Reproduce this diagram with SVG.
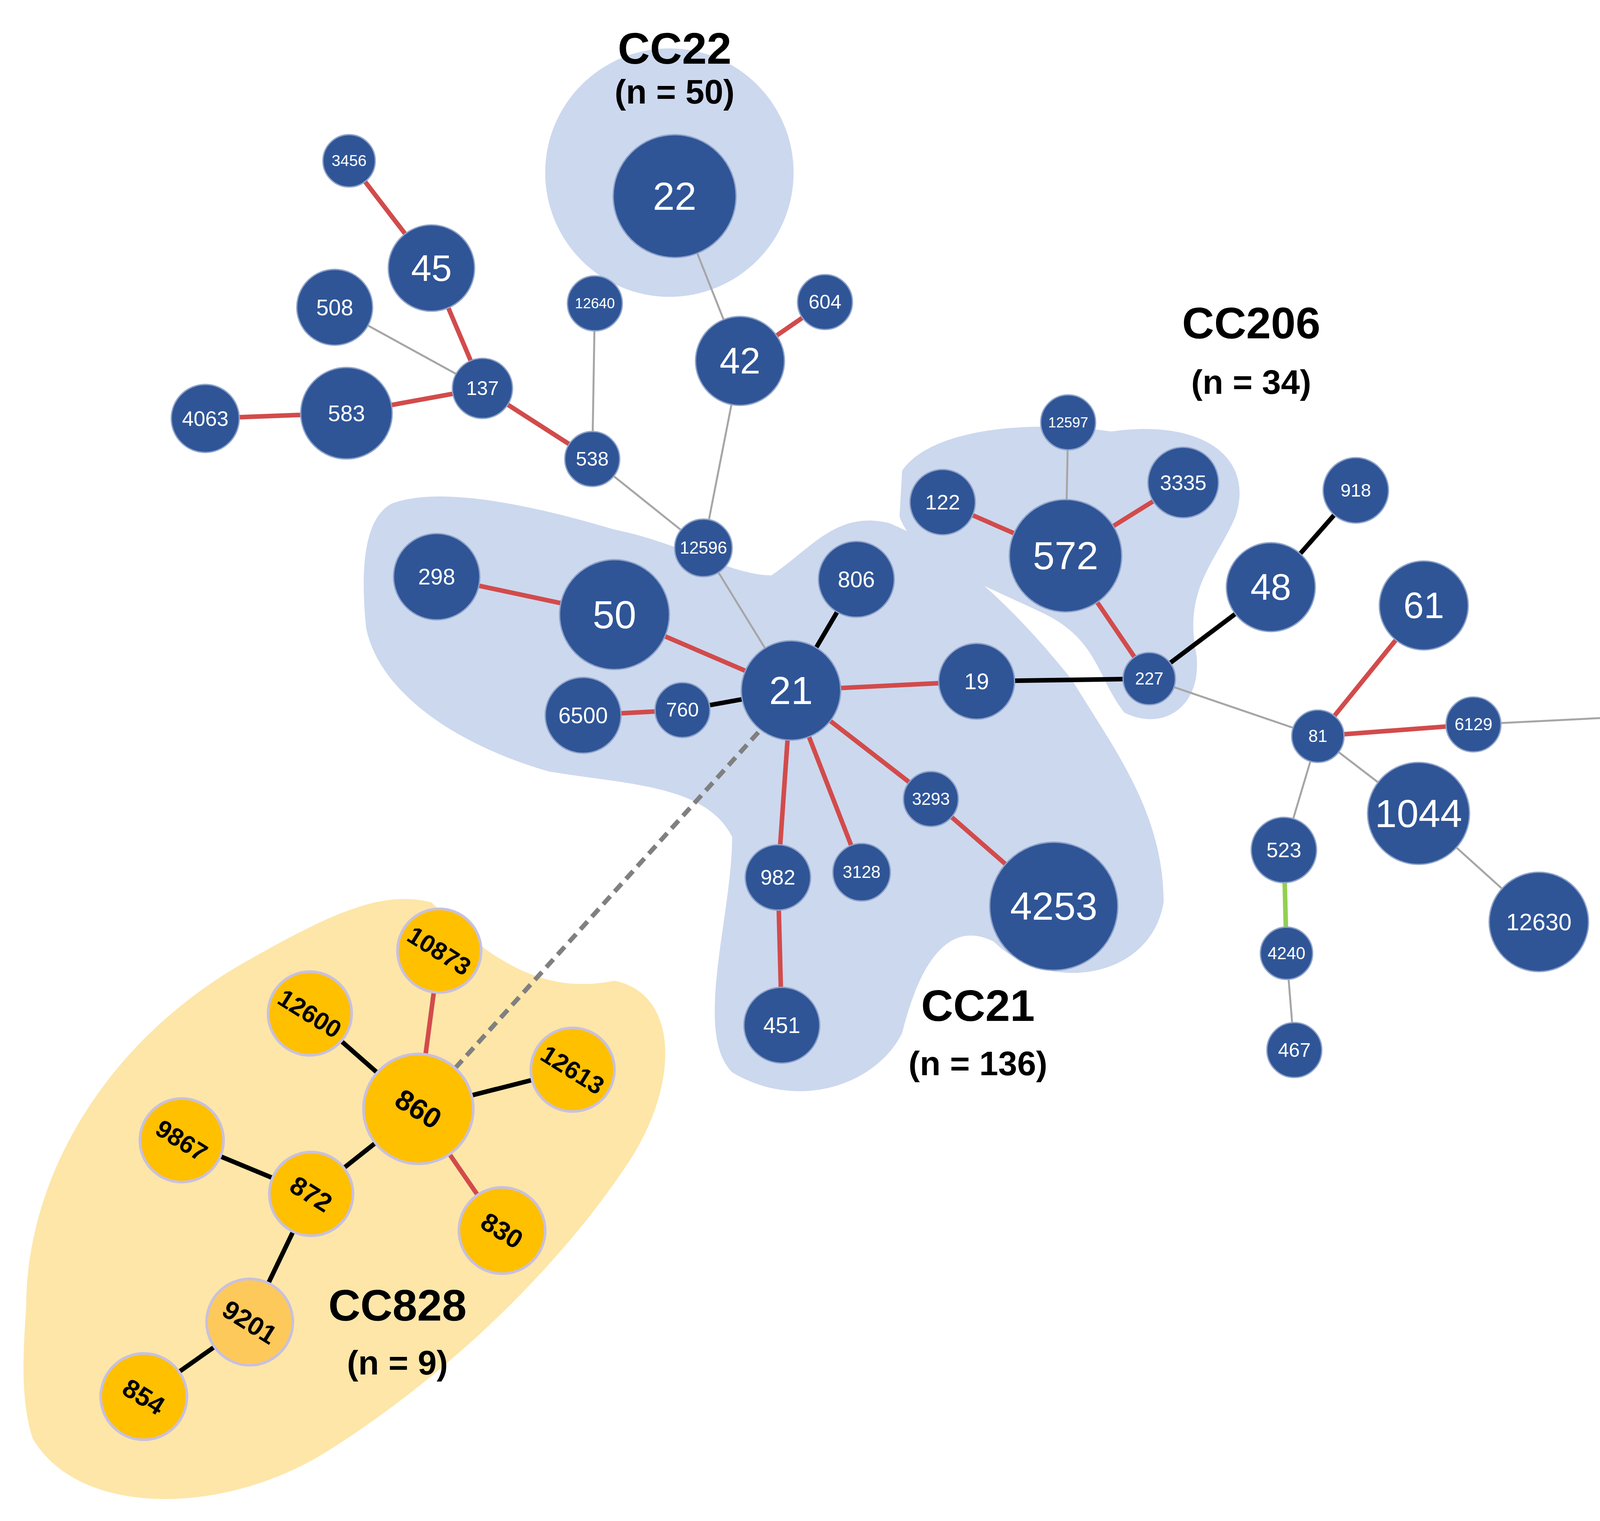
<svg xmlns="http://www.w3.org/2000/svg" width="5248" height="3893" viewBox="0 0 5248 3893">
<style>
.bn{fill:#2f5597;stroke:#8fa3c9;stroke-width:1}
.on{fill:#ffc000;stroke:#c8c0e0;stroke-width:2}
.tw{fill:#fff;font-family:"Liberation Sans",Arial,sans-serif;text-anchor:middle;dominant-baseline:central}
.tb{fill:#000;font-family:"Liberation Sans",Arial,sans-serif;font-weight:bold;text-anchor:middle;dominant-baseline:central}
.r{stroke:#d24b4b;stroke-width:3.5}
.g{stroke:#a6a6a6;stroke-width:1.5}
.k{stroke:#000;stroke-width:3.5}
.gr{stroke:#92d050;stroke-width:3.5}
.lab{font-family:"Liberation Sans",Arial,sans-serif;font-weight:bold;text-anchor:middle;fill:#000}
</style>
<rect width="5248" height="3893" fill="#fff"/>
<g transform="scale(3.347)">
<g id="halos">
<circle cx="512" cy="132" r="95" fill="#ccd8ee"/>
<path d="M300,385 C340,370 420,390 470,405 C520,415 560,440 590,440 C620,420 640,390 680,400 C730,420 780,470 820,520 C850,570 890,620 890,690 C880,750 800,760 760,720 C720,700 700,750 690,790 C670,830 610,850 560,820 C530,790 560,700 560,640 C540,600 480,600 420,590 C350,570 290,530 280,480 C275,430 280,395 300,385 Z" fill="#ccd8ee"/>
<path d="M690,360 C710,330 780,320 850,330 C920,320 960,350 945,395 C930,430 905,450 915,500 C920,540 890,560 860,545 C840,520 840,490 800,470 C760,450 700,430 688,395 Z" fill="#ccd8ee"/>
<path d="M20,1000 C20,900 80,800 180,740 C250,700 290,680 330,690 C380,740 420,760 470,750 C520,760 520,830 480,890 C420,980 330,1060 250,1110 C170,1160 60,1160 25,1100 C15,1070 18,1030 20,1000 Z" fill="#fde6a8"/>
</g>
<g id="connectors">
<line class="r" x1="267" y1="123" x2="330" y2="205"/><line class="r" x1="330" y1="205" x2="369" y2="297"/>
<line class="g" x1="256" y1="235" x2="369" y2="297"/><line class="r" x1="265" y1="316" x2="369" y2="297"/>
<line class="r" x1="157" y1="320" x2="265" y2="316"/><line class="r" x1="369" y1="297" x2="453" y2="351"/>
<line class="g" x1="453" y1="351" x2="455" y2="232"/><line class="g" x1="453" y1="351" x2="538" y2="419"/>
<line class="g" x1="516" y1="150" x2="566" y2="276"/><line class="r" x1="566" y1="276" x2="631" y2="231"/>
<line class="g" x1="566" y1="276" x2="538" y2="419"/><line class="g" x1="538" y1="419" x2="605" y2="528"/>
<line class="r" x1="334" y1="441" x2="470" y2="470"/><line class="r" x1="470" y1="470" x2="605" y2="528"/>
<line class="k" x1="655" y1="443" x2="605" y2="528"/><line class="r" x1="605" y1="528" x2="747" y2="521"/>
<line class="r" x1="446" y1="547" x2="522" y2="543"/><line class="k" x1="522" y1="543" x2="605" y2="528"/>
<line class="r" x1="605" y1="528" x2="712" y2="611"/><line class="r" x1="712" y1="611" x2="806" y2="693"/>
<line class="r" x1="605" y1="528" x2="595" y2="671"/><line class="r" x1="605" y1="528" x2="659" y2="667"/>
<line class="r" x1="595" y1="671" x2="598" y2="784"/>
<line x1="580" y1="560" x2="320" y2="848" stroke="#808080" stroke-width="3.5" stroke-dasharray="8,5"/>
<line class="k" x1="747" y1="521" x2="879" y2="519"/>
<line class="g" x1="817" y1="323" x2="815" y2="425"/><line class="r" x1="721" y1="384" x2="815" y2="425"/>
<line class="r" x1="905" y1="369" x2="815" y2="425"/><line class="r" x1="815" y1="425" x2="879" y2="519"/>
<line class="k" x1="879" y1="519" x2="972" y2="449"/><line class="k" x1="972" y1="449" x2="1037" y2="375"/>
<line class="g" x1="879" y1="519" x2="1008" y2="563"/><line class="r" x1="1008" y1="563" x2="1089" y2="463"/>
<line class="r" x1="1008" y1="563" x2="1127" y2="554"/><line class="g" x1="1008" y1="563" x2="1085" y2="622"/>
<line class="g" x1="1085" y1="622" x2="1177" y2="705"/><line class="g" x1="1008" y1="563" x2="982" y2="650"/>
<line class="gr" x1="982" y1="650" x2="984" y2="729"/><line class="g" x1="984" y1="729" x2="990" y2="803"/>
<line class="g" x1="1127" y1="554" x2="1246" y2="548"/><line class="gr" x1="1246" y1="548" x2="1327" y2="479"/>
<line class="gr" x1="1327" y1="479" x2="1374" y2="395"/><line class="r" x1="1374" y1="395" x2="1448" y2="381"/>
<line class="gr" x1="1374" y1="395" x2="1409" y2="311"/><line class="g" x1="1409" y1="311" x2="1346" y2="241"/>
<line class="g" x1="1409" y1="311" x2="1463" y2="241"/><line class="gr" x1="1463" y1="241" x2="1532" y2="191"/>
<line class="g" x1="1327" y1="479" x2="1432" y2="475"/><line class="r" x1="1432" y1="475" x2="1521" y2="473"/>
<line class="g" x1="1327" y1="479" x2="1421" y2="553"/><line class="r" x1="1246" y1="548" x2="1306" y2="625"/>
<line class="g" x1="1306" y1="625" x2="1397" y2="626"/><line class="r" x1="1306" y1="625" x2="1285" y2="721"/>
<line class="k" x1="1306" y1="625" x2="1360" y2="692"/><line class="g" x1="1360" y1="692" x2="1418" y2="750"/>
<line class="r" x1="1418" y1="750" x2="1469" y2="803"/>
<line class="r" x1="336" y1="727" x2="320" y2="848"/><line class="k" x1="237" y1="775" x2="320" y2="848"/>
<line class="k" x1="438" y1="818" x2="320" y2="848"/><line class="r" x1="320" y1="848" x2="384" y2="941"/>
<line class="k" x1="320" y1="848" x2="238" y2="913"/><line class="k" x1="139" y1="872" x2="238" y2="913"/>
<line class="k" x1="238" y1="913" x2="191" y2="1011"/><line class="k" x1="191" y1="1011" x2="110" y2="1068"/>
</g>
<g id="n22"><circle class="bn" cx="516" cy="150" r="47"/><text class="tw" x="516" y="150" font-size="30">22</text></g>
<g id="n45"><circle class="bn" cx="330" cy="205" r="33"/><text class="tw" x="330" y="205" font-size="28">45</text></g>
<g id="n3456"><circle class="bn" cx="267" cy="123" r="20"/><text class="tw" x="267" y="123" font-size="12">3456</text></g>
<g id="n508"><circle class="bn" cx="256" cy="235" r="29"/><text class="tw" x="256" y="235" font-size="17">508</text></g>
<g id="n137"><circle class="bn" cx="369" cy="297" r="23"/><text class="tw" x="369" y="297" font-size="15">137</text></g>
<g id="n583"><circle class="bn" cx="265" cy="316" r="35"/><text class="tw" x="265" y="316" font-size="17">583</text></g>
<g id="n4063"><circle class="bn" cx="157" cy="320" r="26"/><text class="tw" x="157" y="320" font-size="16">4063</text></g>
<g id="n538"><circle class="bn" cx="453" cy="351" r="21"/><text class="tw" x="453" y="351" font-size="15">538</text></g>
<g id="n12640"><circle class="bn" cx="455" cy="232" r="21"/><text class="tw" x="455" y="232" font-size="11">12640</text></g>
<g id="n42"><circle class="bn" cx="566" cy="276" r="34"/><text class="tw" x="566" y="276" font-size="28">42</text></g>
<g id="n604"><circle class="bn" cx="631" cy="231" r="21"/><text class="tw" x="631" y="231" font-size="15">604</text></g>
<g id="n12596"><circle class="bn" cx="538" cy="419" r="22"/><text class="tw" x="538" y="419" font-size="13">12596</text></g>
<g id="n298"><circle class="bn" cx="334" cy="441" r="33"/><text class="tw" x="334" y="441" font-size="17">298</text></g>
<g id="n50"><circle class="bn" cx="470" cy="470" r="42"/><text class="tw" x="470" y="470" font-size="30">50</text></g>
<g id="n806"><circle class="bn" cx="655" cy="443" r="29"/><text class="tw" x="655" y="443" font-size="17">806</text></g>
<g id="n21"><circle class="bn" cx="605" cy="528" r="38"/><text class="tw" x="605" y="528" font-size="30">21</text></g>
<g id="n19"><circle class="bn" cx="747" cy="521" r="29"/><text class="tw" x="747" y="521" font-size="17">19</text></g>
<g id="n6500"><circle class="bn" cx="446" cy="547" r="29"/><text class="tw" x="446" y="547" font-size="17">6500</text></g>
<g id="n760"><circle class="bn" cx="522" cy="543" r="21"/><text class="tw" x="522" y="543" font-size="15">760</text></g>
<g id="n3293"><circle class="bn" cx="712" cy="611" r="21"/><text class="tw" x="712" y="611" font-size="13">3293</text></g>
<g id="n982"><circle class="bn" cx="595" cy="671" r="25"/><text class="tw" x="595" y="671" font-size="16">982</text></g>
<g id="n3128"><circle class="bn" cx="659" cy="667" r="22"/><text class="tw" x="659" y="667" font-size="13">3128</text></g>
<g id="n4253"><circle class="bn" cx="806" cy="693" r="49"/><text class="tw" x="806" y="693" font-size="30">4253</text></g>
<g id="n451"><circle class="bn" cx="598" cy="784" r="29"/><text class="tw" x="598" y="784" font-size="17">451</text></g>
<g id="n12597"><circle class="bn" cx="817" cy="323" r="21"/><text class="tw" x="817" y="323" font-size="11">12597</text></g>
<g id="n122"><circle class="bn" cx="721" cy="384" r="25"/><text class="tw" x="721" y="384" font-size="16">122</text></g>
<g id="n572"><circle class="bn" cx="815" cy="425" r="43"/><text class="tw" x="815" y="425" font-size="30">572</text></g>
<g id="n3335"><circle class="bn" cx="905" cy="369" r="27"/><text class="tw" x="905" y="369" font-size="16">3335</text></g>
<g id="n227"><circle class="bn" cx="879" cy="519" r="20"/><text class="tw" x="879" y="519" font-size="13">227</text></g>
<g id="n48"><circle class="bn" cx="972" cy="449" r="34"/><text class="tw" x="972" y="449" font-size="28">48</text></g>
<g id="n918"><circle class="bn" cx="1037" cy="375" r="25"/><text class="tw" x="1037" y="375" font-size="14">918</text></g>
<g id="n61"><circle class="bn" cx="1089" cy="463" r="34"/><text class="tw" x="1089" y="463" font-size="28">61</text></g>
<g id="n81"><circle class="bn" cx="1008" cy="563" r="20"/><text class="tw" x="1008" y="563" font-size="13">81</text></g>
<g id="n6129"><circle class="bn" cx="1127" cy="554" r="21"/><text class="tw" x="1127" y="554" font-size="13">6129</text></g>
<g id="n1044"><circle class="bn" cx="1085" cy="622" r="39"/><text class="tw" x="1085" y="622" font-size="30">1044</text></g>
<g id="n12630"><circle class="bn" cx="1177" cy="705" r="38"/><text class="tw" x="1177" y="705" font-size="18">12630</text></g>
<g id="n523"><circle class="bn" cx="982" cy="650" r="25"/><text class="tw" x="982" y="650" font-size="16">523</text></g>
<g id="n4240"><circle class="bn" cx="984" cy="729" r="20"/><text class="tw" x="984" y="729" font-size="13">4240</text></g>
<g id="n467"><circle class="bn" cx="990" cy="803" r="21"/><text class="tw" x="990" y="803" font-size="15">467</text></g>
<g id="n8627"><circle class="bn" cx="1246" cy="548" r="21"/><text class="tw" x="1246" y="548" font-size="13">8627</text></g>
<g id="n464"><circle class="bn" cx="1327" cy="479" r="32"/><text class="tw" x="1327" y="479" font-size="28">464</text></g>
<g id="n5"><circle class="bn" cx="1432" cy="475" r="27"/><text class="tw" x="1432" y="475" font-size="17">5</text></g>
<g id="n1898"><circle class="bn" cx="1521" cy="473" r="29"/><text class="tw" x="1521" y="473" font-size="17">1898</text></g>
<g id="n460"><circle class="bn" cx="1421" cy="553" r="29"/><text class="tw" x="1421" y="553" font-size="17">460</text></g>
<g id="n904"><circle class="bn" cx="1374" cy="395" r="25"/><text class="tw" x="1374" y="395" font-size="16">904</text></g>
<g id="n12635"><circle class="bn" cx="1448" cy="381" r="22"/><text class="tw" x="1448" y="381" font-size="11">12635</text></g>
<g id="n3611"><circle class="bn" cx="1409" cy="311" r="22"/><text class="tw" x="1409" y="311" font-size="13">3611</text></g>
<g id="n12268"><circle class="bn" cx="1346" cy="241" r="21"/><text class="tw" x="1346" y="241" font-size="11">12268</text></g>
<g id="n2274"><circle class="bn" cx="1463" cy="241" r="21"/><text class="tw" x="1463" y="241" font-size="13">2274</text></g>
<g id="n305"><circle class="bn" cx="1532" cy="191" r="27"/><text class="tw" x="1532" y="191" font-size="17">305</text></g>
<g id="n5229"><circle class="bn" cx="1306" cy="625" r="25"/><text class="tw" x="1306" y="625" font-size="15">5229</text></g>
<g id="n5046"><circle class="bn" cx="1397" cy="626" r="21"/><text class="tw" x="1397" y="626" font-size="13">5046</text></g>
<g id="n12656"><circle class="bn" cx="1285" cy="721" r="21"/><text class="tw" x="1285" y="721" font-size="11">12656</text></g>
<g id="n12636"><circle class="bn" cx="1360" cy="692" r="21"/><text class="tw" x="1360" y="692" font-size="11">12636</text></g>
<g id="n51"><circle class="bn" cx="1418" cy="750" r="27"/><text class="tw" x="1418" y="750" font-size="17">51</text></g>
<g id="n5671"><circle class="bn" cx="1469" cy="803" r="22"/><text class="tw" x="1469" y="803" font-size="13">5671</text></g>
<g id="n10873"><circle class="on" cx="336" cy="727" r="32"/><text class="tb" transform="translate(336,727) rotate(32)" font-size="19">10873</text></g>
<g id="n12600"><circle class="on" cx="237" cy="775" r="32"/><text class="tb" transform="translate(237,775) rotate(32)" font-size="19">12600</text></g>
<g id="n860"><circle class="on" cx="320" cy="848" r="42"/><text class="tb" transform="translate(320,848) rotate(32)" font-size="22">860</text></g>
<g id="n12613"><circle class="on" cx="438" cy="818" r="32"/><text class="tb" transform="translate(438,818) rotate(32)" font-size="19">12613</text></g>
<g id="n9867"><circle class="on" cx="139" cy="872" r="32"/><text class="tb" transform="translate(139,872) rotate(32)" font-size="19">9867</text></g>
<g id="n872"><circle class="on" cx="238" cy="913" r="32"/><text class="tb" transform="translate(238,913) rotate(32)" font-size="20">872</text></g>
<g id="n830"><circle class="on" cx="384" cy="941" r="33"/><text class="tb" transform="translate(384,941) rotate(32)" font-size="20">830</text></g>
<g id="n9201"><circle cx="191" cy="1011" r="33" fill="#fdc95a" stroke="#c8c0e0" stroke-width="2"/><text class="tb" transform="translate(191,1011) rotate(32)" font-size="20">9201</text></g>
<g id="n854"><circle class="on" cx="110" cy="1068" r="33" /><text class="tb" transform="translate(110,1068) rotate(32)" font-size="20">854</text></g>
<g id="labels">
<text class="lab" x="516" y="37" font-size="34" dominant-baseline="central">CC22</text>
<text class="lab" x="516" y="70" font-size="26" dominant-baseline="central">(n = 50)</text>
<text class="lab" x="957" y="247" font-size="34" dominant-baseline="central">CC206</text>
<text class="lab" x="957" y="292" font-size="26" dominant-baseline="central">(n = 34)</text>
<text class="lab" x="748" y="769" font-size="34" dominant-baseline="central">CC21</text>
<text class="lab" x="748" y="813" font-size="26" dominant-baseline="central">(n = 136)</text>
<text class="lab" x="304" y="998" font-size="34" dominant-baseline="central">CC828</text>
<text class="lab" x="304" y="1042" font-size="26" dominant-baseline="central">(n = 9)</text>
</g>
<g id="legend">
<circle cx="1247" cy="41" r="20" fill="#2f5597"/>
<circle cx="1247" cy="96" r="20" fill="#ffc000"/>
<text x="1282" y="41" font-size="25" font-family="Liberation Sans,Arial,sans-serif" dominant-baseline="central"><tspan font-weight="bold" font-style="italic">C. jejuni</tspan> (n = 361)</text>
<text x="1282" y="96" font-size="25" font-family="Liberation Sans,Arial,sans-serif" dominant-baseline="central"><tspan font-weight="bold" font-style="italic">C. coli</tspan> (n = 10)</text>
</g>
</g>
</svg>
